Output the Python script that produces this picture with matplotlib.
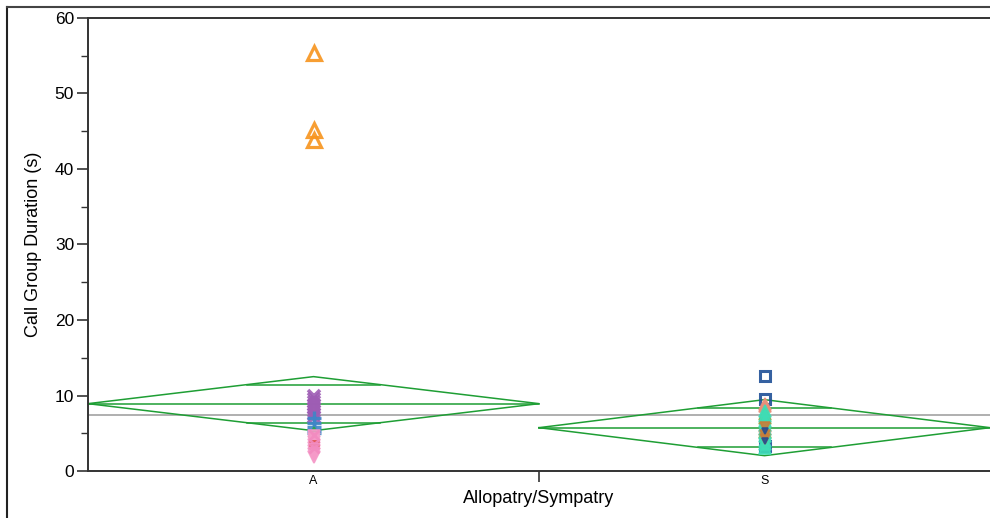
import matplotlib
matplotlib.use("Agg")
import matplotlib.pyplot as plt
from matplotlib.lines import Line2D
from matplotlib.ticker import MultipleLocator, FixedLocator
import numpy as np

plt.rcParams['font.family'] = ['Liberation Sans', 'DejaVu Sans']

groups = ["A", "S"]

# Means diamond summaries per group (mean, 95% CI) and the grand mean
group_means = [8.92, 5.74]
ci_lower = [5.34, 2.03]
ci_upper = [12.50, 9.45]
grand_mean = 7.42

# Individual call-group durations, split by population marker
orange_tri_A = [55.3, 45.1, 43.8]
purple_x_A = [10.0, 9.6, 9.2, 8.8, 8.4, 8.0, 7.6, 7.2]
blue_plus_A = [7.0, 6.4, 5.8, 5.4, 5.0]
green_tri_A = [5.2, 4.4, 3.6]
pink_down_A = [4.6, 4.2, 3.8, 3.4, 3.0, 2.6, 2.2, 1.8]
red_dash_A = [4.0, 3.4]
pink_x_A = [4.8, 3.6, 3.0]

navy_sq_S = [12.6, 9.5, 3.3]
salmon_tri_S = [8.9, 8.6, 6.0, 5.5]
olive_tri_S = [7.6, 7.0, 5.2]
teal_tri_S = [8.0, 7.3, 6.6, 6.1, 5.6, 5.0, 4.6, 4.0, 3.6, 3.0]
brown_down_S = [5.8, 4.8, 4.3]
navy_down_S = [4.0, 5.3]

series = [
    (0, orange_tri_A, "^", "#F7941D", "none", 10, 2.3),
    (0, purple_x_A, "x", "#9E5DB4", None, 8, 2.6),
    (0, blue_plus_A, "+", "#3F86C8", None, 10, 2.4),
    (0, green_tri_A, "^", "#2FA84F", None, 7, 1.2),
    (0, pink_down_A, "v", "#F59AC8", None, 8, 1.2),
    (0, red_dash_A, "_", "#E0504A", None, 7, 2.0),
    (0, pink_x_A, "x", "#F28BC0", None, 7, 2.0),
    (1, navy_sq_S, "s", "#1F5097", "none", 7, 2.2),
    (1, salmon_tri_S, "^", "#E8907A", None, 8, 1.2),
    (1, olive_tri_S, "^", "#9AA53C", None, 8, 1.2),
    (1, teal_tri_S, "^", "#3FDDB6", None, 8, 1.2),
    (1, brown_down_S, "v", "#C77E3A", None, 7, 1.2),
    (1, navy_down_S, "v", "#2A4E8F", None, 5, 1.2),
]

fig = plt.figure(figsize=(9.9, 5.18), dpi=100)
ax = fig.add_axes([88 / 990, 1 - 471 / 518, 1 - 88 / 990, (471 - 18) / 518])

diamond_color = "#1E9E34"
for i, (m, lo, hi) in enumerate(zip(group_means, ci_lower, ci_upper)):
    left, right = i - 0.5, i + 0.5
    ax.plot([left, i, right, i, left], [m, hi, m, lo, m],
            color=diamond_color, lw=1.1, zorder=2)
    ax.plot([left, right], [m, m], color=diamond_color, lw=1.1, zorder=2)
    half = (hi - lo) / 2
    off = half / np.sqrt(2)
    frac = 1 - off / half
    for y in (m + off, m - off):
        ax.plot([i - 0.5 * frac, i + 0.5 * frac], [y, y],
                color=diamond_color, lw=1.1, zorder=2)

ax.axhline(grand_mean, color="#9A9A9A", lw=1.1, zorder=1)

for xi, vals, mk, col, face, size, lw in series:
    xs = np.full(len(vals), xi, dtype=float)
    kw = dict(marker=mk, linestyle="none", markersize=size,
              markeredgewidth=lw, color=col, zorder=3, alpha=0.9)
    if face == "none":
        kw["markerfacecolor"] = "none"
    ax.plot(xs, vals, **kw)

ax.set_xlim(-0.5, 1.5)
ax.set_ylim(0, 60)

ax.xaxis.set_major_locator(FixedLocator([0.5]))
ax.xaxis.set_minor_locator(FixedLocator([0, 1]))
ax.set_xticklabels([""])
ax.set_xticklabels(groups, minor=True)
ax.tick_params(axis="x", which="major", length=8, width=1.2, color="#333333")
ax.tick_params(axis="x", which="minor", length=0, labelsize=9, pad=3)

ax.yaxis.set_major_locator(MultipleLocator(10))
ax.yaxis.set_minor_locator(MultipleLocator(5))
ax.tick_params(axis="y", which="major", length=8, width=1.2, color="#333333",
               labelsize=12.5, pad=2)
ax.tick_params(axis="y", which="minor", length=5, width=1.0, color="#333333")

for s in ("left", "bottom", "top"):
    ax.spines[s].set_color("#333333")
    ax.spines[s].set_linewidth(1.4)
ax.spines["right"].set_visible(False)

ax.set_ylabel("Call Group Duration (s)", fontsize=13, labelpad=9)
ax.set_xlabel("Allopatry/Sympatry", fontsize=13, labelpad=2)

# Outer report frame
fig.add_artist(Line2D([7 / 990, 7 / 990], [0, 1 - 7 / 518],
                      transform=fig.transFigure, color="#222222", lw=1.5))
fig.add_artist(Line2D([7 / 990, 1], [1 - 7 / 518, 1 - 7 / 518],
                      transform=fig.transFigure, color="#444444", lw=1.5))

fig.savefig("out.png", dpi=100)
